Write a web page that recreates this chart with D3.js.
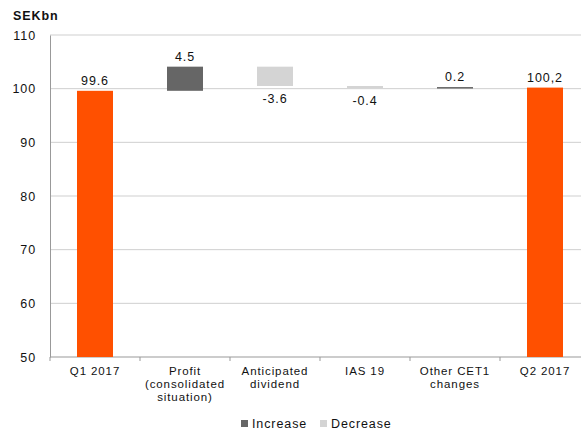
<!DOCTYPE html>
<html>
<head>
<meta charset="utf-8">
<script src="https://cdn.jsdelivr.net/npm/d3@7"></script>
<style>
  body { margin: 0; background: #fff; }
  svg { font-family: "Liberation Sans", Arial, sans-serif; }
  svg text { letter-spacing: 0.9px; }
</style>
</head>
<body>
<svg width="581" height="430"></svg>
<script>
const categories = ["Q1 2017", "Profit\n(consolidated\nsituation)", "Anticipated\ndividend", "IAS 19", "Other CET1\nchanges", "Q2 2017"];
const kinds = ["total", "change", "change", "change", "change", "total"];
const values = [99.6, 4.5, -3.6, -0.4, 0.2, 100.2];
const valueLabels = ["99.6", "4.5", "-3.6", "-0.4", "0.2", "100,2"];
const yTicks = [50, 60, 70, 80, 90, 100, 110];

const svg = d3.select('svg');
const margin = {top: 35, left: 50, bottom: 73};
const height = 430;
const plotBottom = height - margin.bottom;
const plotRight = 590;

// running base for the waterfall
let running = 0;
const bars = values.map((v, i) => {
    let lo, hi;
    if (kinds[i] === "total") { lo = 50; hi = v; running = v; }
    else { lo = Math.min(running, running + v); hi = Math.max(running, running + v); running += v; }
    return {cat: categories[i], kind: kinds[i], v: v, lo: lo, hi: hi, label: valueLabels[i]};
});

const x = d3.scaleBand().domain(categories).range([margin.left, plotRight]).padding(0);
const y = d3.scaleLinear().domain([50, 110]).range([plotBottom, margin.top]);

// gridlines
svg.append('g').selectAll('line')
    .data(yTicks.filter(d => d > 50))
    .enter().append('line')
    .attr('x1', margin.left).attr('x2', plotRight)
    .attr('y1', d => y(d)).attr('y2', d => y(d))
    .attr('stroke', '#cfcfcf').attr('stroke-width', 1);

// y axis
const yAxis = svg.append('g')
    .attr('transform', 'translate(' + margin.left + ',0)')
    .call(d3.axisLeft(y).tickValues(yTicks).tickSize(0).tickPadding(14));
yAxis.select('.domain').attr('stroke', '#999');
yAxis.selectAll('text').attr('font-size', 12.5).attr('fill', '#111').attr('font-family', '"Liberation Sans", Arial, sans-serif');

svg.append('text').attr('x', 13).attr('y', 20)
    .attr('font-size', 12.5).attr('font-weight', 'bold').attr('fill', '#111').text('SEKbn');

// x axis line and boundary ticks
svg.append('line').attr('x1', margin.left).attr('x2', plotRight)
    .attr('y1', plotBottom).attr('y2', plotBottom).attr('stroke', '#999');
svg.append('g').selectAll('line')
    .data(categories)
    .enter().append('line')
    .attr('x1', d => x(d)).attr('x2', d => x(d))
    .attr('y1', plotBottom).attr('y2', plotBottom + 4)
    .attr('stroke', '#999');

// category labels
const catLabels = svg.append('g').selectAll('text')
    .data(categories)
    .enter().append('text')
    .attr('x', d => x(d) + x.bandwidth() / 2)
    .attr('y', plotBottom + 18)
    .attr('text-anchor', 'middle')
    .attr('font-size', 11.5).attr('letter-spacing', '0.9px').attr('fill', '#111');
catLabels.each(function(d) {
    const t = d3.select(this);
    d.split('\n').forEach((line, i) => {
        t.append('tspan').attr('x', x(d) + x.bandwidth() / 2).attr('dy', i === 0 ? 0 : 13).text(line);
    });
});

const barW = x.bandwidth() * 0.4;
function barColor(b) {
    if (b.kind === "total") return '#ff5000';
    return b.v >= 0 ? '#666666' : '#d4d4d4';
}

svg.append('g').selectAll('rect')
    .data(bars)
    .enter().append('rect')
    .attr('x', d => x(d.cat) + (x.bandwidth() - barW) / 2)
    .attr('width', barW)
    .attr('y', d => y(d.hi))
    .attr('height', d => Math.max(1.5, y(d.lo) - y(d.hi)))
    .attr('fill', barColor);

// value labels
svg.append('g').selectAll('text')
    .data(bars)
    .enter().append('text')
    .attr('x', d => x(d.cat) + x.bandwidth() / 2)
    .attr('y', d => (d.kind === "total" || d.v >= 0) ? y(d.hi) - 6 : y(d.lo) + 17)
    .attr('text-anchor', 'middle')
    .attr('font-size', 12.5).attr('fill', '#111')
    .text(d => d.label);

// legend
const legendItems = [{name: "Increase", c: '#666666'}, {name: "Decrease", c: '#d4d4d4'}];
const lg = svg.append('g').attr('transform', 'translate(241,425)');
legendItems.forEach((it, i) => {
    const g = lg.append('g').attr('transform', 'translate(' + (i * 79) + ',0)');
    g.append('rect').attr('x', 0).attr('y', -5).attr('width', 7).attr('height', 7).attr('fill', it.c);
    g.append('text').attr('x', 11).attr('y', 3).attr('font-size', 12.5).attr('fill', '#111').text(it.name);
});
</script>
</body>
</html>
